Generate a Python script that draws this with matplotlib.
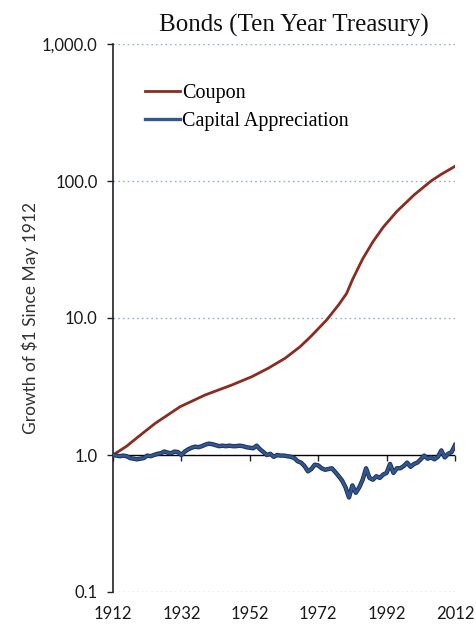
import matplotlib
matplotlib.use("Agg")
import matplotlib.pyplot as plt
import matplotlib.patheffects as pe
from matplotlib.lines import Line2D
from matplotlib.ticker import FixedLocator, FuncFormatter, NullLocator

# ---- data ----
coupon_years = [1912, 1916, 1919.4, 1924.3, 1931.6, 1938.9, 1946.7, 1952.6, 1957.4, 1962.3,
                1966.7, 1970, 1974.5, 1978, 1980.3, 1982, 1985, 1988, 1991, 1995, 2000,
                2005, 2008, 2012]
coupon_vals = [1.0, 1.16, 1.36, 1.70, 2.25, 2.74, 3.24, 3.73, 4.30, 5.08,
               6.17, 7.4, 9.7, 12.5, 15.1, 19, 27, 36, 46, 60, 79,
               100, 112, 128]

cap_years = list(range(1912, 2013))
cap_vals = [1.00, 0.99, 0.98, 0.99, 0.98, 0.95, 0.94, 0.93, 0.94, 0.95,
            0.99, 0.98, 1.00, 1.02, 1.03, 1.06, 1.04, 1.03, 1.06, 1.05,
            1.00, 1.06, 1.10, 1.13, 1.15, 1.14, 1.16, 1.19, 1.21, 1.20,
            1.18, 1.16, 1.17, 1.16, 1.17, 1.16, 1.16, 1.17, 1.16, 1.14,
            1.13, 1.12, 1.17, 1.10, 1.05, 1.00, 1.02, 0.97, 1.00, 0.99,
            0.99, 0.98, 0.97, 0.95, 0.90, 0.88, 0.83, 0.76, 0.79, 0.85,
            0.84, 0.80, 0.78, 0.79, 0.80, 0.75, 0.70, 0.65, 0.58, 0.49,
            0.60, 0.53, 0.58, 0.66, 0.80, 0.68, 0.66, 0.70, 0.68, 0.72,
            0.74, 0.86, 0.74, 0.80, 0.80, 0.83, 0.88, 0.82, 0.86, 0.88,
            0.93, 0.99, 0.94, 0.96, 0.93, 0.97, 1.08, 0.96, 1.02, 1.05, 1.18]

y_ticks = [0.1, 1.0, 10.0, 100.0, 1000.0]
x_ticks = [1912, 1932, 1952, 1972, 1992, 2012]

title = "Bonds (Ten Year Treasury)"
ylabel = "Growth of $1 Since May 1912"
series_names = ["Coupon", "Capital Appreciation"]
red = "#8a2c20"
blue = "#34568f"

# ---- figure ----
fig = plt.figure(figsize=(4.76, 6.25), dpi=100)
ax = fig.add_axes([113/476, 33/625, (455-113)/476, (592-44)/625])
ax.set_yscale("log")
ax.set_ylim(0.1, 1000)
ax.set_xlim(1912, 2012)

serif = ["Liberation Serif", "DejaVu Serif"]
sans = ["Lato", "DejaVu Sans"]

# gridlines
for v in y_ticks:
    if v != 1.0:
        ax.axhline(v, color="#8fb3cc", lw=1.0, ls=(0, (1.2, 2.2)), zorder=1)
ax.axhline(1.0, color="black", lw=1.0, zorder=2)

ax.plot(coupon_years, coupon_vals, color=red, lw=2.0, zorder=3)
ax.plot(cap_years, cap_vals, color=blue, lw=1.8, zorder=3,
        path_effects=[pe.Stroke(linewidth=3.2, foreground="#1c3360"), pe.Normal()])

for s in ["top", "right", "bottom"]:
    ax.spines[s].set_visible(False)
ax.spines["left"].set_color("#222222")
ax.spines["left"].set_linewidth(1.2)

ax.yaxis.set_major_locator(FixedLocator(y_ticks))
ax.yaxis.set_minor_locator(NullLocator())
ax.yaxis.set_major_formatter(FuncFormatter(lambda v, p: f"{v:,.1f}"))
ax.tick_params(axis="y", direction="out", length=4, width=1, colors="#222222",
               labelcolor="#1a1a1a", labelsize=12, pad=7)

ax.xaxis.set_major_locator(FixedLocator(x_ticks))
ax.tick_params(axis="x", length=0, labelsize=12, labelcolor="#1a1a1a", pad=10)

# tick marks on the axis line at 1.0 (axes fraction 0.25 on log scale)
sec = ax.secondary_xaxis(0.25)
sec.xaxis.set_major_locator(FixedLocator(x_ticks))
sec.spines["bottom"].set_visible(False)
sec.tick_params(axis="x", direction="out", length=4, width=1, colors="#222222",
                labelbottom=False)

for lab in ax.get_yticklabels() + ax.get_xticklabels():
    lab.set_family(sans)

ax.set_ylabel(ylabel, family=sans, fontsize=12.5, color="#333333", labelpad=2)
ax.set_title(title, family=serif, fontsize=18, color="#111111", pad=9, x=0.53)

handles = [Line2D([], [], color=red, lw=2.0), Line2D([], [], color=blue, lw=2.4)]
leg = ax.legend(handles, series_names, loc="upper left", bbox_to_anchor=(0.094, 0.928),
                frameon=False, handlelength=1.75, handletextpad=0.1, labelspacing=0.45,
                prop={"family": serif, "size": 14.5}, borderaxespad=0, borderpad=0)

fig.savefig("out.png", dpi=100, facecolor="white")
